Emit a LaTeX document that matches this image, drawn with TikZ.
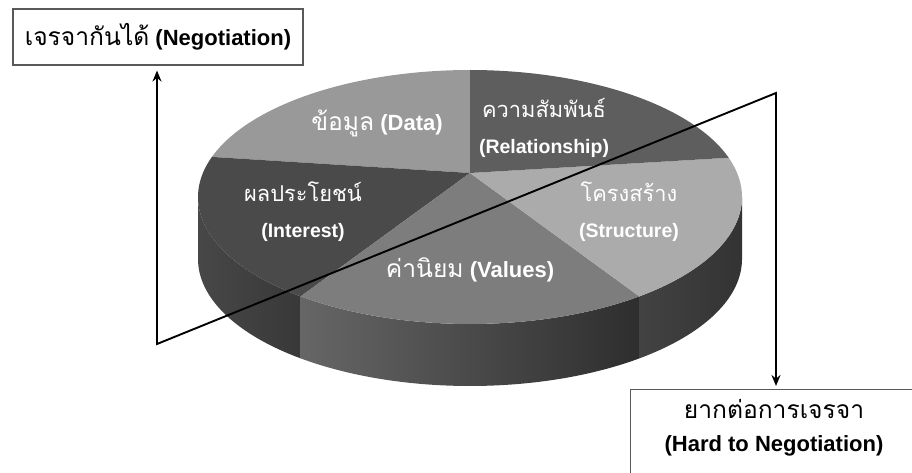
\documentclass[tikz,border=0pt]{standalone}
\usepackage{fontspec}
\setmainfont{Liberation Sans}
\newfontfamily\thai[Script=Thai,Scale=1.12]{Loma}
\usetikzlibrary{arrows.meta}
\definecolor{cData}{gray}{0.60}
\definecolor{cRel}{gray}{0.37}
\definecolor{cStr}{gray}{0.67}
\definecolor{cVal}{gray}{0.49}
\definecolor{cInt}{gray}{0.29}
\definecolor{boxline}{gray}{0.35}
\newcommand\topslice[3]{\fill[#3] (apex) -- plot[domain=#1:#2,samples=60] ({470+272*cos(\x)},{197-127*sin(\x)}) -- cycle;}
\newcommand\sideslice[4]{\shade[left color=#3,right color=#4] plot[domain=#1:#2,samples=60] ({470+272*cos(\x)},{197-127*sin(\x)}) -- plot[domain=#2:#1,samples=60] ({470+272*cos(\x)},{259-127*sin(\x)}) -- cycle;}
\begin{document}
\begin{tikzpicture}[x=1pt,y=-1pt,
  piebig/.style={text=white,font=\fontsize{22}{26}\selectfont,align=center},
  piesmall/.style={text=white,font=\fontsize{19.5}{36}\selectfont,align=center},
  boxnode/.style={draw=boxline,line width=1.1pt,fill=white},
  conn/.style={line width=1.9pt,line join=miter}]
\useasboundingbox (0,0) rectangle (912,473);
\coordinate (apex) at (470,173);
% sides
\sideslice{180}{231.5}{black!72}{black!78}
\sideslice{231.5}{308.5}{black!60}{black!82}
\sideslice{308.5}{360}{black!74}{black!80}
% top
\topslice{90}{161.6}{cData}
\topslice{161.6}{231.5}{cInt}
\topslice{231.5}{308.5}{cVal}
\topslice{-51.5}{18}{cStr}
\topslice{18}{90}{cRel}
% labels
\node[piebig] (ldata) at (377,123) {{\thai ข้อมูล} \textbf{(Data)}};
\node[piesmall] (lrel) at (544,128) {{\thai ความสัมพันธ์}\\\textbf{(Relationship)}};
\node[piesmall] (lstr) at (629,212) {{\thai โครงสร้าง}\\\textbf{(Structure)}};
\node[piesmall] (lint) at (303,212) {{\thai ผลประโยชน์}\\\textbf{(Interest)}};
\node[piebig] (lval) at (470,270) {{\thai ค่านิยม} \textbf{(Values)}};
% boxes
\node[boxnode,minimum width=290,minimum height=56,font=\fontsize{22}{26}\selectfont] (negbox) at (158,37) {{\thai เจรจากันได้} \textbf{(Negotiation)}};
\node[boxnode,minimum width=290,minimum height=100,anchor=north west] (hardbox) at (630,389) {};
\node[align=center,font=\fontsize{22}{33}\selectfont] (hardtext) at (774,428) {{\thai ยากต่อการเจรจา}\\\textbf{(Hard to Negotiation)}};
% connector
\coordinate (c1) at (157,344);
\coordinate (c2) at (776,93);
\draw[conn,{Stealth[length=11pt,width=9pt]}-{Stealth[length=11pt,width=9pt]},shorten <=5pt,shorten >=3pt]
  (c1 |- negbox.south) -- (c1) -- (c2) -- (c2 |- hardbox.north);
\end{tikzpicture}
\end{document}
